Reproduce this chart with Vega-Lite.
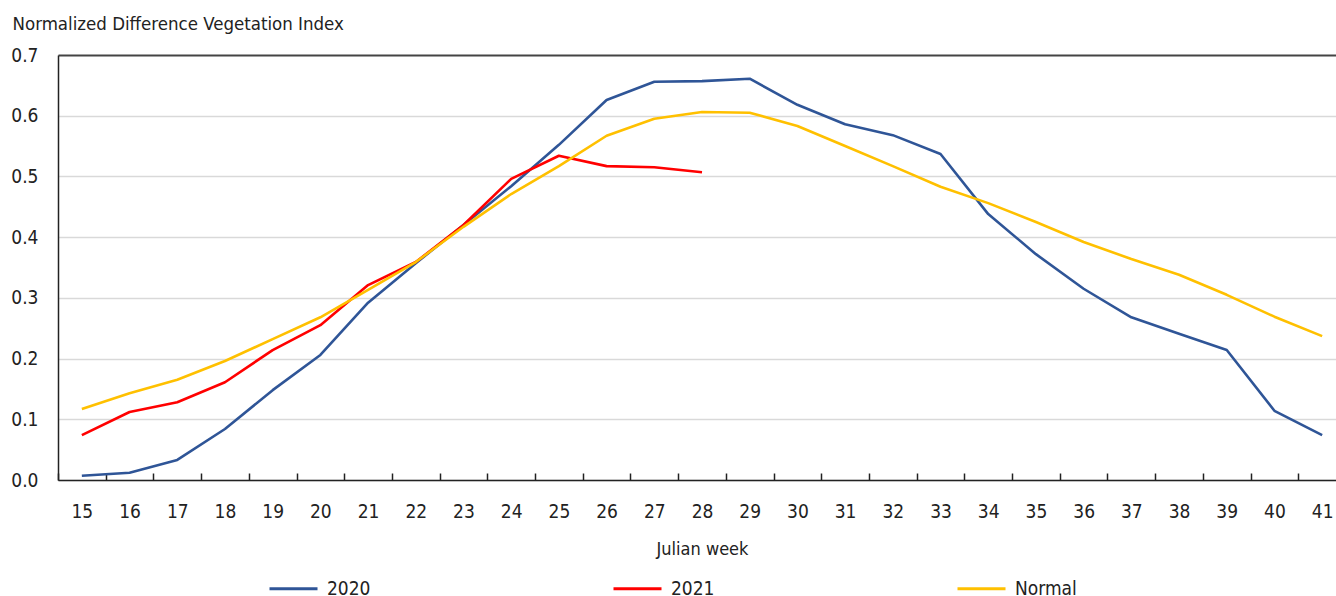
{
  "$schema": "https://vega.github.io/schema/vega-lite/v6.json",
  "autosize": {"type": "none"},
  "padding": {"left": 58, "top": 55, "right": 0, "bottom": 116},
  "width": 1288,
  "height": 425,
  "background": "white",
  "config": {
    "font": "'DejaVu Sans Condensed', Roboto, sans-serif",
    "view": {"stroke": null}
  },
  "data": {
    "values": [
      {"week": 15, "series": "2020", "ndvi": 0.007},
      {"week": 16, "series": "2020", "ndvi": 0.012},
      {"week": 17, "series": "2020", "ndvi": 0.033},
      {"week": 18, "series": "2020", "ndvi": 0.084},
      {"week": 19, "series": "2020", "ndvi": 0.148},
      {"week": 20, "series": "2020", "ndvi": 0.206},
      {"week": 21, "series": "2020", "ndvi": 0.292},
      {"week": 22, "series": "2020", "ndvi": 0.357},
      {"week": 23, "series": "2020", "ndvi": 0.420},
      {"week": 24, "series": "2020", "ndvi": 0.484},
      {"week": 25, "series": "2020", "ndvi": 0.552},
      {"week": 26, "series": "2020", "ndvi": 0.626},
      {"week": 27, "series": "2020", "ndvi": 0.656},
      {"week": 28, "series": "2020", "ndvi": 0.657},
      {"week": 29, "series": "2020", "ndvi": 0.661},
      {"week": 30, "series": "2020", "ndvi": 0.618},
      {"week": 31, "series": "2020", "ndvi": 0.586},
      {"week": 32, "series": "2020", "ndvi": 0.568},
      {"week": 33, "series": "2020", "ndvi": 0.537},
      {"week": 34, "series": "2020", "ndvi": 0.438},
      {"week": 35, "series": "2020", "ndvi": 0.372},
      {"week": 36, "series": "2020", "ndvi": 0.315},
      {"week": 37, "series": "2020", "ndvi": 0.268},
      {"week": 38, "series": "2020", "ndvi": 0.241},
      {"week": 39, "series": "2020", "ndvi": 0.214},
      {"week": 40, "series": "2020", "ndvi": 0.114},
      {"week": 41, "series": "2020", "ndvi": 0.074},
      {"week": 15, "series": "2021", "ndvi": 0.074},
      {"week": 16, "series": "2021", "ndvi": 0.112},
      {"week": 17, "series": "2021", "ndvi": 0.128},
      {"week": 18, "series": "2021", "ndvi": 0.161},
      {"week": 19, "series": "2021", "ndvi": 0.214},
      {"week": 20, "series": "2021", "ndvi": 0.255},
      {"week": 21, "series": "2021", "ndvi": 0.321},
      {"week": 22, "series": "2021", "ndvi": 0.359},
      {"week": 23, "series": "2021", "ndvi": 0.420},
      {"week": 24, "series": "2021", "ndvi": 0.496},
      {"week": 25, "series": "2021", "ndvi": 0.534},
      {"week": 26, "series": "2021", "ndvi": 0.517},
      {"week": 27, "series": "2021", "ndvi": 0.515},
      {"week": 28, "series": "2021", "ndvi": 0.507},
      {"week": 15, "series": "Normal", "ndvi": 0.117},
      {"week": 16, "series": "Normal", "ndvi": 0.143},
      {"week": 17, "series": "Normal", "ndvi": 0.165},
      {"week": 18, "series": "Normal", "ndvi": 0.196},
      {"week": 19, "series": "Normal", "ndvi": 0.232},
      {"week": 20, "series": "Normal", "ndvi": 0.268},
      {"week": 21, "series": "Normal", "ndvi": 0.313},
      {"week": 22, "series": "Normal", "ndvi": 0.359},
      {"week": 23, "series": "Normal", "ndvi": 0.417},
      {"week": 24, "series": "Normal", "ndvi": 0.471},
      {"week": 25, "series": "Normal", "ndvi": 0.517},
      {"week": 26, "series": "Normal", "ndvi": 0.567},
      {"week": 27, "series": "Normal", "ndvi": 0.595},
      {"week": 28, "series": "Normal", "ndvi": 0.606},
      {"week": 29, "series": "Normal", "ndvi": 0.605},
      {"week": 30, "series": "Normal", "ndvi": 0.583},
      {"week": 31, "series": "Normal", "ndvi": 0.550},
      {"week": 32, "series": "Normal", "ndvi": 0.517},
      {"week": 33, "series": "Normal", "ndvi": 0.483},
      {"week": 34, "series": "Normal", "ndvi": 0.456},
      {"week": 35, "series": "Normal", "ndvi": 0.425},
      {"week": 36, "series": "Normal", "ndvi": 0.392},
      {"week": 37, "series": "Normal", "ndvi": 0.364},
      {"week": 38, "series": "Normal", "ndvi": 0.338},
      {"week": 39, "series": "Normal", "ndvi": 0.305},
      {"week": 40, "series": "Normal", "ndvi": 0.269},
      {"week": 41, "series": "Normal", "ndvi": 0.237}
    ]
  },
  "mark": {"type": "line", "strokeWidth": 2.6, "strokeJoin": "round"},
  "encoding": {
    "x": {
      "field": "week",
      "type": "ordinal",
      "scale": {"type": "band", "paddingInner": 0, "paddingOuter": 0},
      "axis": {
        "title": "Julian week",
        "titleFontSize": 18,
        "titleFontWeight": "normal",
        "titleColor": "#222222",
        "titlePadding": 19,
        "labelFontSize": 19,
        "labelColor": "#222222",
        "labelAngle": 0,
        "labelPadding": 29,
        "domainColor": "#222222",
        "domainWidth": 1.5,
        "tickColor": "#222222",
        "tickWidth": 1.5,
        "tickSize": -7,
        "tickBand": "extent",
        "grid": false
      }
    },
    "y": {
      "field": "ndvi",
      "type": "quantitative",
      "scale": {"domain": [0, 0.7], "nice": false},
      "axis": {
        "title": "Normalized Difference Vegetation Index",
        "titleAngle": 0,
        "titleAlign": "left",
        "titleBaseline": "middle",
        "titleX": -46,
        "titleY": -32,
        "titleFontSize": 18.5,
        "titleFontWeight": "normal",
        "titleColor": "#222222",
        "values": [0, 0.1, 0.2, 0.3, 0.4, 0.5, 0.6, 0.7],
        "format": ".1f",
        "labelFontSize": 19,
        "labelColor": "#222222",
        "labelPadding": 20,
        "ticks": false,
        "domainColor": "#222222",
        "domainWidth": 1.5,
        "grid": true,
        "gridColor": {"condition": {"test": "datum.value >= 0.69", "value": "#444444"}, "value": "#d9d9d9"},
        "gridWidth": {"condition": {"test": "datum.value >= 0.69", "value": 2}, "value": 1.3}
      }
    },
    "color": {
      "field": "series",
      "type": "nominal",
      "scale": {"domain": ["2020", "2021", "Normal"], "range": ["#2F5597", "#FF0000", "#FFC000"]},
      "legend": {
        "title": null,
        "orient": "none",
        "legendX": 210,
        "legendY": 508,
        "direction": "horizontal",
        "columns": 3,
        "symbolType": "stroke",
        "symbolSize": 2304,
        "symbolStrokeWidth": 3,
        "labelFontSize": 19,
        "labelColor": "#222222",
        "labelOffset": 8,
        "columnPadding": 236
      }
    }
  }
}
